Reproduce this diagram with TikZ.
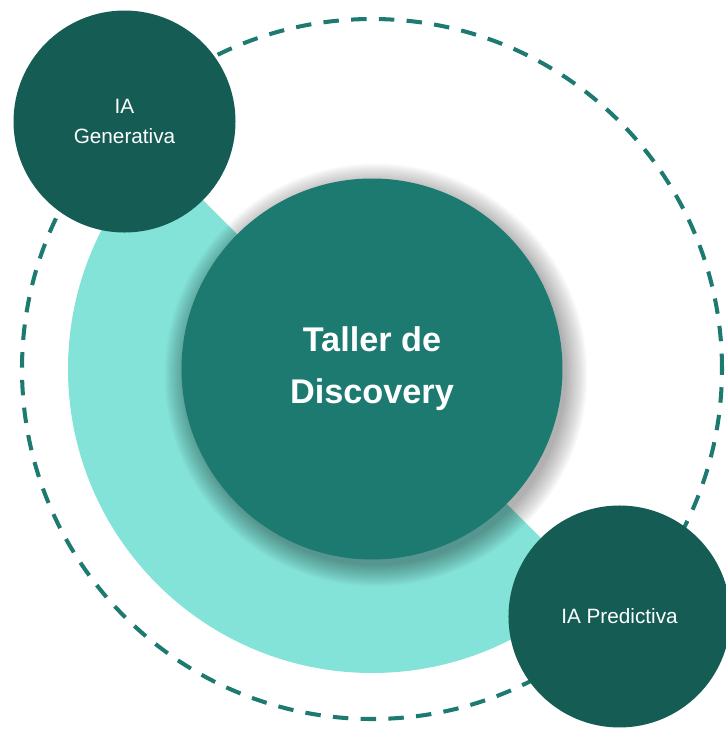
\documentclass[tikz,border=0pt]{standalone}
\usepackage{fontspec}
\setmainfont{Liberation Sans}
\usepackage{xcolor}
\definecolor{darkteal}{HTML}{155C55}
\definecolor{midteal}{HTML}{1C7A70}
\definecolor{lightteal}{HTML}{84E3D8}

\begin{document}
\begin{tikzpicture}[every node/.style={text=white, align=center},
        topic/.style={circle, fill=darkteal, minimum size=4.44cm, inner sep=0pt, font=\fontsize{11.8}{17}\selectfont}]
        \useasboundingbox (-7.44,-7.24) rectangle (7.08,7.38);
        \draw[midteal, line width=2.3pt, dash pattern=on 8.8pt off 7pt] (0,0) circle (7);
        \fill[lightteal] (0,0) -- (135:6.08) arc (135:315:6.08) -- cycle;
        \foreach \i in {1,...,18}
            \fill[black, opacity=0.018] (0.08,-0.12) circle (3.78+0.025*\i);
        \node[circle, fill=midteal, minimum size=7.62cm, inner sep=0pt, font=\fontsize{19.5}{29.5}\selectfont\bfseries] (taller) at (0,0) {Taller de\\Discovery};
        \node[topic] (gen) at (135:7) {IA\\Generativa};
        \node[topic] (pred) at (-45:7) {IA Predictiva};
    \end{tikzpicture}
\end{document}
